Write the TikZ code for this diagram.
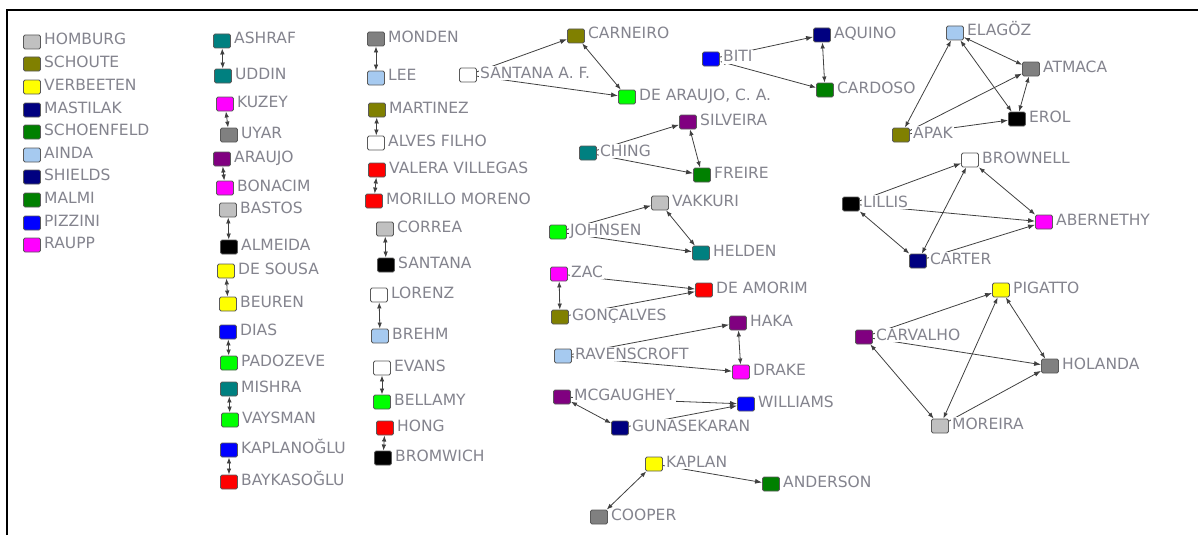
\documentclass[tikz,border=0pt]{standalone}
\usepackage{fontspec}
\setmainfont{DejaVu Sans}
\usetikzlibrary{arrows.meta}
\pgfdeclarelayer{edges}
\pgfsetlayers{edges,main}
\definecolor{labgray}{RGB}{132,132,142}
\definecolor{boxedge}{RGB}{90,90,90}
\definecolor{cSilver}{RGB}{192,192,192}
\definecolor{cOlive}{RGB}{128,128,0}
\definecolor{cYellow}{RGB}{255,255,0}
\definecolor{cNavy}{RGB}{0,0,128}
\definecolor{cGreen}{RGB}{0,128,0}
\definecolor{cSky}{RGB}{166,202,240}
\definecolor{cBlue}{RGB}{0,0,255}
\definecolor{cMagenta}{RGB}{255,0,255}
\definecolor{cTeal}{RGB}{0,128,128}
\definecolor{cGray}{RGB}{128,128,128}
\definecolor{cPurple}{RGB}{128,0,128}
\definecolor{cLime}{RGB}{0,255,0}
\definecolor{cRed}{RGB}{255,0,0}
\definecolor{cBlack}{RGB}{0,0,0}
\definecolor{cWhite}{RGB}{255,255,255}
\begin{document}
\begin{tikzpicture}[
                x=1pt, y=-1pt,
                pbox/.style={rectangle, draw=boxedge, rounded corners=1.5pt, line width=0.9pt, minimum width=17pt, minimum height=14pt, inner sep=0pt},
                plab/.style={font=\fontsize{15.5}{15.5}\selectfont, text=labgray, fill=white, inner sep=1pt, text height=11pt, text depth=1pt, yshift=2pt},
                every label/.style={plab},
                label distance=2pt,
                arr/.style={-{Latex[length=7pt,width=5pt]}, draw=black!75, line width=0.8pt},
                biarr/.style={{Latex[length=6pt,width=4.5pt]}-{Latex[length=6pt,width=4.5pt]}, draw=black!75, line width=0.8pt}
            ]
            \useasboundingbox (0,0) rectangle (1198,535);
            \draw[line width=1.4pt] (7,535) -- (7,10) -- (1198,10);
            % isolates
            \node[pbox, fill=cSilver,  label=east:HOMBURG]    (homburg)    at (32,42)  {};
            \node[pbox, fill=cOlive,   label=east:SCHOUTE]    (schoute)    at (32,64)  {};
            \node[pbox, fill=cYellow,  label=east:VERBEETEN]  (verbeeten)  at (32,87)  {};
            \node[pbox, fill=cNavy,    label=east:MASTILAK]   (mastilak)   at (32,110) {};
            \node[pbox, fill=cGreen,   label=east:SCHOENFELD] (schoenfeld) at (32,132) {};
            \node[pbox, fill=cSky,     label=east:AINDA]      (ainda)      at (32,155) {};
            \node[pbox, fill=cNavy,    label=east:SHIELDS]    (shields)    at (32,177) {};
            \node[pbox, fill=cGreen,   label=east:MALMI]      (malmi)      at (32,200) {};
            \node[pbox, fill=cBlue,    label=east:PIZZINI]    (pizzini)    at (32,223) {};
            \node[pbox, fill=cMagenta, label=east:RAUPP]      (raupp)      at (32,245) {};
            % pairs, second column
            \node[pbox, fill=cTeal,    label=east:ASHRAF]     (ashraf)     at (222,41)  {};
            \node[pbox, fill=cTeal,    label=east:UDDIN]      (uddin)      at (223,76)  {};
            \node[pbox, fill=cMagenta, label=east:KUZEY]      (kuzey)      at (225,104) {};
            \node[pbox, fill=cGray,    label=east:UYAR]       (uyar)       at (229,135) {};
            \node[pbox, fill=cPurple,  label=east:ARAUJO]     (araujo)     at (222,159) {};
            \node[pbox, fill=cMagenta, label=east:BONACIM]    (bonacim)    at (225,188) {};
            \node[pbox, fill=cSilver,  label=east:BASTOS]     (bastos)     at (228,210) {};
            \node[pbox, fill=cBlack,   label=east:ALMEIDA]    (almeida)    at (229,247) {};
            \node[pbox, fill=cYellow,  label=east:DE SOUSA]   (desousa)    at (226,271) {};
            \node[pbox, fill=cYellow,  label=east:BEUREN]     (beuren)     at (228,304) {};
            \node[pbox, fill=cBlue,    label=east:DIAS]       (dias)       at (228,332) {};
            \node[pbox, fill=cLime,    label=east:PADOZEVE]   (padozeve)   at (229,363) {};
            \node[pbox, fill=cTeal,    label=east:MISHRA]     (mishra)     at (229,389) {};
            \node[pbox, fill=cLime,    label=east:VAYSMAN]    (vaysman)    at (230,420) {};
            \node[pbox, fill=cBlue,    label=east:KAPLANOĞLU] (kaplanoglu) at (229,450) {};
            \node[pbox, fill=cRed,     label=east:BAYKASOĞLU] (baykasoglu) at (229,482) {};
            % pairs, third column
            \node[pbox, fill=cGray,    label=east:MONDEN]          (monden)   at (376,39)  {};
            \node[pbox, fill=cSky,     label=east:LEE]             (lee)      at (376,78)  {};
            \node[pbox, fill=cOlive,   label=east:MARTINEZ]        (martinez) at (377,110) {};
            \node[pbox, fill=cWhite,   label=east:ALVES FILHO]     (alves)    at (376,143) {};
            \node[pbox, fill=cRed,     label=east:VALERA VILLEGAS] (valera)   at (377,170) {};
            \node[pbox, fill=cRed,     label=east:MORILLO MORENO]  (morillo)  at (374,201) {};
            \node[pbox, fill=cSilver,  label=east:CORREA]          (correa)   at (385,229) {};
            \node[pbox, fill=cBlack,   label=east:SANTANA]         (santana)  at (386,265) {};
            \node[pbox, fill=cWhite,   label=east:LORENZ]          (lorenz)   at (379,295) {};
            \node[pbox, fill=cSky,     label=east:BREHM]           (brehm)    at (380,336) {};
            \node[pbox, fill=cWhite,   label=east:EVANS]           (evans)    at (382,368) {};
            \node[pbox, fill=cLime,    label=east:BELLAMY]         (bellamy)  at (382,402) {};
            \node[pbox, fill=cRed,     label=east:HONG]            (hong)     at (385,428) {};
            \node[pbox, fill=cBlack,   label=east:BROMWICH]        (bromwich) at (383,458) {};
            % triads
            \node[pbox, fill=cWhite,   label=east:SANTANA A. F.]     (santanaaf)   at (468,75)  {};
            \node[pbox, fill=cOlive,   label=east:CARNEIRO]          (carneiro)    at (576,36)  {};
            \node[pbox, fill=cLime,    label=east:{DE ARAUJO, C. A.}] (dearaujo)   at (627,97)  {};
            \node[pbox, fill=cBlue,    label=east:BITI]              (biti)        at (711,59)  {};
            \node[pbox, fill=cNavy,    label=east:AQUINO]            (aquino)      at (822,35)  {};
            \node[pbox, fill=cGreen,   label=east:CARDOSO]           (cardoso)     at (825,90)  {};
            \node[pbox, fill=cPurple,  label=east:SILVEIRA]          (silveira)    at (688,122) {};
            \node[pbox, fill=cTeal,    label=east:CHING]             (ching)       at (588,153) {};
            \node[pbox, fill=cGreen,   label=east:FREIRE]            (freire)      at (702,175) {};
            \node[pbox, fill=cSilver,  label=east:VAKKURI]           (vakkuri)     at (660,203) {};
            \node[pbox, fill=cLime,    label=east:JOHNSEN]           (johnsen)     at (558,232) {};
            \node[pbox, fill=cTeal,    label=east:HELDEN]            (helden)      at (701,253) {};
            \node[pbox, fill=cMagenta, label=east:ZAC]               (zac)         at (559,274) {};
            \node[pbox, fill=cRed,     label=east:DE AMORIM]         (deamorim)    at (704,290) {};
            \node[pbox, fill=cOlive,   label=east:GONÇALVES]         (goncalves)   at (560,317) {};
            \node[pbox, fill=cPurple,  label=east:HAKA]              (haka)        at (738,323) {};
            \node[pbox, fill=cSky,     label=east:RAVENSCROFT]       (ravenscroft) at (563,356) {};
            \node[pbox, fill=cMagenta, label=east:DRAKE]             (drake)       at (741,372) {};
            \node[pbox, fill=cPurple,  label=east:MCGAUGHEY]         (mcgaughey)   at (562,397) {};
            \node[pbox, fill=cBlue,    label=east:WILLIAMS]          (williams)    at (746,404) {};
            \node[pbox, fill=cNavy,    label=east:GUNASEKARAN]       (gunasekaran) at (620,428) {};
            \node[pbox, fill=cYellow,  label=east:KAPLAN]            (kaplan)      at (654,464) {};
            \node[pbox, fill=cGreen,   label=east:ANDERSON]          (anderson)    at (771,484) {};
            \node[pbox, fill=cGray,    label=east:COOPER]            (cooper)      at (599,517) {};
            % tetrads
            \node[pbox, fill=cSky,     label=east:ELAGÖZ]    (elagoz)    at (955,33)   {};
            \node[pbox, fill=cGray,    label=east:ATMACA]    (atmaca)    at (1031,69)  {};
            \node[pbox, fill=cBlack,   label=east:EROL]      (erol)      at (1017,119) {};
            \node[pbox, fill=cOlive,   label=east:APAK]      (apak)      at (901,135)  {};
            \node[pbox, fill=cWhite,   label=east:BROWNELL]  (brownell)  at (970,160)  {};
            \node[pbox, fill=cBlack,   label=east:LILLIS]    (lillis)    at (851,204)  {};
            \node[pbox, fill=cMagenta, label=east:ABERNETHY] (abernethy) at (1044,222) {};
            \node[pbox, fill=cNavy,    label=east:CARTER]    (carter)    at (918,261)  {};
            \node[pbox, fill=cYellow,  label=east:PIGATTO]   (pigatto)   at (1001,290) {};
            \node[pbox, fill=cPurple,  label=east:CARVALHO]  (carvalho)  at (864,337)  {};
            \node[pbox, fill=cGray,    label=east:HOLANDA]   (holanda)   at (1050,366) {};
            \node[pbox, fill=cSilver,  label=east:MOREIRA]   (moreira)   at (940,426)  {};
            \begin{pgfonlayer}{edges}
            \draw[biarr] (ashraf) -- (uddin);
            \draw[biarr] (kuzey) -- (uyar);
            \draw[biarr] (araujo) -- (bonacim);
            \draw[biarr] (bastos) -- (almeida);
            \draw[biarr] (desousa) -- (beuren);
            \draw[biarr] (dias) -- (padozeve);
            \draw[biarr] (mishra) -- (vaysman);
            \draw[biarr] (kaplanoglu) -- (baykasoglu);
            \draw[biarr] (monden) -- (lee);
            \draw[biarr] (martinez) -- (alves);
            \draw[biarr] (valera) -- (morillo);
            \draw[biarr] (correa) -- (santana);
            \draw[biarr] (lorenz) -- (brehm);
            \draw[biarr] (evans) -- (bellamy);
            \draw[biarr] (hong) -- (bromwich);
            \draw[arr]   (santanaaf) -- (carneiro);
            \draw[arr]   (santanaaf) -- (dearaujo);
            \draw[biarr] (carneiro) -- (dearaujo);
            \draw[arr]   (biti) -- (aquino);
            \draw[biarr] (biti) -- (cardoso);
            \draw[biarr] (aquino) -- (cardoso);
            \draw[arr]   (ching) -- (silveira);
            \draw[arr]   (ching) -- (freire);
            \draw[biarr] (silveira) -- (freire);
            \draw[arr]   (johnsen) -- (vakkuri);
            \draw[arr]   (johnsen) -- (helden);
            \draw[biarr] (vakkuri) -- (helden);
            \draw[arr]   (zac) -- (deamorim);
            \draw[arr]   (goncalves) -- (deamorim);
            \draw[biarr] (zac) -- (goncalves);
            \draw[arr]   (ravenscroft) -- (haka);
            \draw[arr]   (ravenscroft) -- (drake);
            \draw[biarr] (haka) -- (drake);
            \draw[arr]   (mcgaughey) -- (williams);
            \draw[arr]   (gunasekaran) -- (williams);
            \draw[biarr] (mcgaughey) -- (gunasekaran);
            \draw[biarr] (cooper) -- (kaplan);
            \draw[arr]   (kaplan) -- (anderson);
            \draw[biarr] (elagoz) -- (atmaca);
            \draw[biarr] (elagoz) -- (erol);
            \draw[biarr] (elagoz) -- (apak);
            \draw[arr]   (apak) -- (atmaca);
            \draw[arr]   (apak) -- (erol);
            \draw[biarr] (atmaca) -- (erol);
            \draw[arr]   (lillis) -- (brownell);
            \draw[arr]   (lillis) -- (abernethy);
            \draw[biarr] (lillis) -- (carter);
            \draw[biarr] (carter) -- (brownell);
            \draw[arr]   (carter) -- (abernethy);
            \draw[biarr] (brownell) -- (abernethy);
            \draw[arr]   (carvalho) -- (pigatto);
            \draw[arr]   (carvalho) -- (holanda);
            \draw[biarr] (carvalho) -- (moreira);
            \draw[biarr] (pigatto) -- (moreira);
            \draw[biarr] (pigatto) -- (holanda);
            \draw[arr]   (moreira) -- (holanda);
            \end{pgfonlayer}
        \end{tikzpicture}
\end{document}
